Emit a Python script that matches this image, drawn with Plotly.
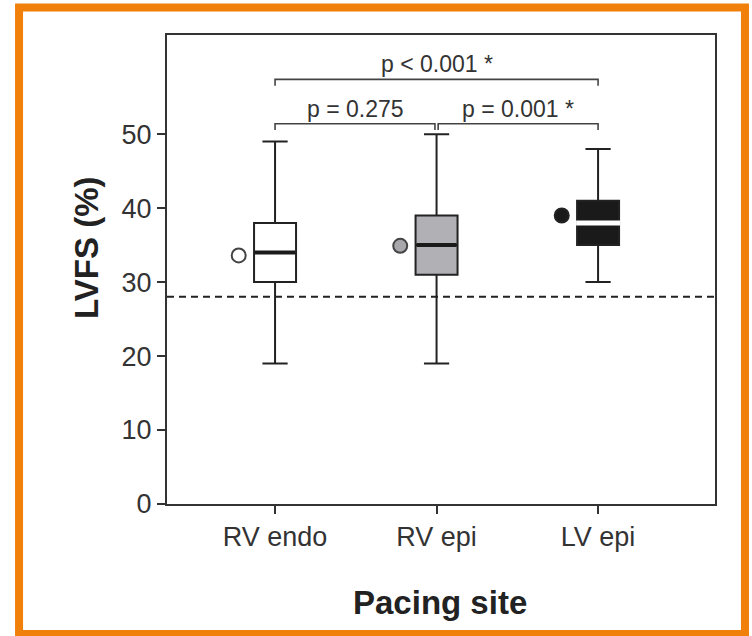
import plotly.graph_objects as go

# ---- data ----
categories = ["RV endo", "RV epi", "LV epi"]
positions = [0, 1, 2]
whisker_low = [19, 19, 30]
q1 = [30, 31, 35]
median = [34, 35, 38]
q3 = [38, 39, 41]
whisker_high = [49, 50, 48]
means = [33.6, 34.9, 39.0]
threshold = 28

box_fill = ["#ffffff", "#b1b1b5", "#1a1a1a"]
mean_fill = ["#ffffff", "#a8a8ac", "#1a1a1a"]
median_color = ["#1a1a1a", "#1a1a1a", "#ffffff"]

# significance brackets: (from, to, level, label)
br_from = [0, 1.01, 0]
br_to = [0.99, 2, 2]
br_level = [51.4, 51.4, 57.4]
br_label = ["p = 0.275", "p = 0.001 *", "p < 0.001 *"]

y_ticks = [0, 10, 20, 30, 40, 50]

BOX_W = 0.26
MEAN_OFFSET = -0.225
FONT = "Liberation Sans, Arial, sans-serif"
DARK = "#222222"

fig = go.Figure()

for i, cat in enumerate(categories):
    fig.add_trace(go.Box(
        x=[positions[i]], q1=[q1[i]], median=[median[i]], q3=[q3[i]],
        lowerfence=[whisker_low[i]], upperfence=[whisker_high[i]],
        width=BOX_W, whiskerwidth=0.6, boxpoints=False,
        fillcolor=box_fill[i], line=dict(color=DARK, width=2),
        name=cat, showlegend=False, hoverinfo="skip",
    ))
    # thick median bar (white gap for the dark box)
    half = BOX_W / 2 - 0.006 if i < 2 else BOX_W / 2 + 0.006
    fig.add_trace(go.Scatter(
        x=[positions[i] - half, positions[i] + half],
        y=[median[i], median[i]], mode="lines",
        line=dict(color=median_color[i], width=4 if i < 2 else 5),
        showlegend=False, hoverinfo="skip",
    ))
    # mean marker
    fig.add_trace(go.Scatter(
        x=[positions[i] + MEAN_OFFSET], y=[means[i]], mode="markers",
        marker=dict(size=14, color=mean_fill[i],
                    line=dict(color="#444444" if i < 2 else DARK, width=2)),
        showlegend=False, hoverinfo="skip",
    ))

# brackets
TICK_DROP = 0.85
for a, b, lvl, lab in zip(br_from, br_to, br_level, br_label):
    fig.add_trace(go.Scatter(
        x=[a, a, b, b], y=[lvl - TICK_DROP, lvl, lvl, lvl - TICK_DROP],
        mode="lines", line=dict(color="#444444", width=1.6),
        showlegend=False, hoverinfo="skip",
    ))
    fig.add_annotation(x=(a + b) / 2, y=lvl, text=lab, showarrow=False,
                       xanchor="center", yanchor="bottom", yshift=0,
                       font=dict(family=FONT, size=23, color="#333333"))

# dashed threshold line
fig.add_shape(type="line", xref="paper", x0=0, x1=1, yref="y",
              y0=threshold, y1=threshold,
              line=dict(color=DARK, width=2, dash="7px,5px"))

# orange frame
fig.add_shape(type="rect", xref="paper", yref="paper",
              x0=-0.270, x1=1.0547, y0=-0.2772, y1=1.0586,
              line=dict(color="#F0800A", width=8), layer="below")

# axis titles
fig.add_annotation(xref="paper", yref="paper", x=0.498, y=-0.211,
                   xanchor="center", yanchor="middle",
                   text="<b>Pacing site</b>", showarrow=False,
                   font=dict(family=FONT, size=33, color="#222222"))
fig.add_annotation(xref="paper", yref="paper", x=-0.146, y=0.546,
                   xanchor="center", yanchor="middle",
                   text="<b>LVFS (%)</b>", showarrow=False, textangle=-90,
                   font=dict(family=FONT, size=33, color="#222222"))

fig.update_layout(
    width=752, height=636,
    margin=dict(l=167, r=37, t=35, b=132),
    paper_bgcolor="white", plot_bgcolor="white",
    showlegend=False,
    font=dict(family=FONT),
)
fig.update_xaxes(
    range=[-0.669, 2.724], tickmode="array", tickvals=positions, ticktext=categories,
    showline=True, linecolor="#333333", linewidth=2, mirror=True,
    ticks="outside", ticklen=8, tickwidth=2, tickcolor="#333333",
    showgrid=False, zeroline=False,
    tickfont=dict(family=FONT, size=27, color="#333333"),
)
fig.update_yaxes(
    range=[0, 63.4], tickmode="array", tickvals=y_ticks,
    showline=True, linecolor="#333333", linewidth=2, mirror=True,
    ticks="outside", ticklen=8, tickwidth=2, tickcolor="#333333",
    showgrid=False, zeroline=False,
    tickfont=dict(family=FONT, size=27, color="#333333"),
)

fig.write_html("out.html",
               config={"displayModeBar": False},
               post_script="document.body.style.margin='0';document.body.style.overflow='hidden';")
